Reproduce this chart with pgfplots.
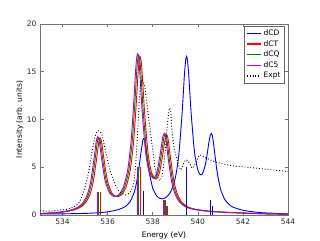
\documentclass[border=0pt]{standalone}
\usepackage{fontspec}
\setmainfont{DejaVu Sans}
\usepackage{pgfplots}
\pgfplotsset{compat=1.18}
\definecolor{mplblue}{rgb}{0,0,1}
\definecolor{mplred}{rgb}{1,0,0}
\definecolor{mplgreen}{rgb}{0,0.5,0}
\definecolor{mplmag}{rgb}{0.75,0,0.75}
\begin{document}
\begin{tikzpicture}
\path[use as bounding box] (-40pt,-25pt) rectangle (280pt,215pt);
\begin{axis}[
  at={(0pt,0pt)}, anchor=south west,
  scale only axis, width=248pt, height=191pt,
  xmin=533, xmax=544, ymin=0, ymax=20,
  xtick={534,536,...,544}, ytick={0,5,...,20},
  /pgf/number format/assume math mode=true,
  /pgf/number format/1000 sep={},
  tick label style={font=\fontsize{7.5}{8}\selectfont, black!85},
  axis line style={black!55, line width=0.8pt},
  tick style={black!55, line width=0.6pt},
  major tick length=3.5pt,
  xlabel={Energy (eV)}, ylabel={Intensity (arb. units)},
  label style={font=\fontsize{7.5}{8}\selectfont},
  xlabel style={at={(axis description cs:0.5,-0.105)}, anchor=center},
  ylabel style={at={(axis description cs:-0.081,0.5)}, anchor=center},
  legend style={at={(0.985,0.99)}, anchor=north east, draw=black!60, fill=white,
    font=\fontsize{7.5}{8}\selectfont, inner sep=1.5pt, row sep=-0.5pt},
  legend cell align=left,
  legend image code/.code={\draw[#1, line width=1.4pt] (0cm,0cm) -- (0.5cm,0cm);},
]
% dCD
\addplot[color=mplblue, line width=0.9pt, smooth, tension=0.4] coordinates {
(533,0.10) (534,0.12) (535,0.17) (535.5,0.22) (536,0.33) (536.5,0.58) (536.8,0.92)
(537.0,1.42) (537.2,2.52) (537.35,4.26) (537.45,6.04) (537.56,7.82) (537.6,8.00)
(537.64,7.82) (537.75,6.15) (537.85,4.44) (538.0,2.82) (538.2,1.92) (538.4,1.69)
(538.6,1.85) (538.8,2.44) (539.0,3.87) (539.15,6.17) (539.3,10.55) (539.4,14.49)
(539.46,16.2) (539.5,16.61) (539.54,16.2) (539.6,14.60) (539.7,10.79) (539.85,6.64)
(540.0,4.72) (540.1,4.25) (540.2,4.29) (540.35,5.42) (540.5,7.73) (540.56,8.37)
(540.6,8.55) (540.64,8.35) (540.7,7.43) (540.85,4.60) (541.0,2.78) (541.2,1.61)
(541.5,0.89) (542,0.50) (542.5,0.32) (543,0.22) (544,0.12)};
\addlegendentry{dCD}
% dCT
\addplot[color=mplred, line width=0.9pt, smooth, tension=0.4] coordinates {
(533,0.14) (533.5,0.20) (534,0.30) (534.5,0.52) (534.8,0.82) (535.0,1.22) (535.2,2.05)
(535.35,3.34) (535.5,5.69) (535.6,7.50) (535.63,7.87) (535.67,8.05) (535.71,7.87)
(535.75,7.42) (535.85,5.66) (536.0,3.51) (536.2,2.25) (536.4,1.91) (536.6,2.08)
(536.8,2.81) (537.0,4.63) (537.15,7.62) (537.25,10.94) (537.35,14.84) (537.40,16.22)
(537.44,16.58) (537.48,16.22) (537.53,14.91) (537.65,10.37) (537.8,6.32) (537.95,4.41)
(538.15,3.76) (538.3,4.44) (538.45,6.39) (538.55,7.98) (538.58,8.24) (538.62,8.40)
(538.66,8.24) (538.7,7.66) (538.8,5.76) (538.95,3.42) (539.1,2.15) (539.3,1.32)
(539.6,0.80) (540.0,0.55) (540.5,0.40) (541.0,0.32) (541.5,0.26) (542.0,0.21)
(543.0,0.13) (544.0,0.08)};
\addlegendentry{dCT}
% dCQ
\addplot[color=mplgreen, line width=0.9pt, smooth, tension=0.4] coordinates {
(533,0.15) (533.44,0.20) (533.94,0.30) (534.44,0.53) (534.74,0.83) (534.94,1.23)
(535.14,2.07) (535.29,3.37) (535.44,5.75) (535.54,7.58) (535.57,7.95) (535.61,8.13)
(535.65,7.95) (535.69,7.49) (535.79,5.72) (535.94,3.55) (536.14,2.27) (536.34,1.93)
(536.54,2.10) (536.74,2.84) (536.94,4.68) (537.09,7.70) (537.19,11.05) (537.29,14.99)
(537.34,16.38) (537.38,16.75) (537.42,16.38) (537.47,15.06) (537.59,10.47) (537.74,6.38)
(537.89,4.45) (538.09,3.80) (538.24,4.48) (538.39,6.45) (538.49,8.06) (538.52,8.32)
(538.56,8.48) (538.60,8.32) (538.64,7.74) (538.74,5.82) (538.89,3.45) (539.04,2.17)
(539.24,1.33) (539.54,0.81) (539.94,0.56) (540.44,0.40) (540.94,0.32) (541.44,0.26)
(541.94,0.21) (542.94,0.13) (544,0.08)};
\addlegendentry{dCQ}
% dC5
\addplot[color=mplmag, line width=0.9pt, smooth, tension=0.4] coordinates {
(533,0.15) (533.39,0.20) (533.89,0.31) (534.39,0.53) (534.69,0.83) (534.89,1.24)
(535.09,2.09) (535.24,3.40) (535.39,5.79) (535.49,7.64) (535.52,8.01) (535.56,8.19)
(535.60,8.01) (535.64,7.55) (535.74,5.76) (535.89,3.57) (536.09,2.29) (536.29,1.94)
(536.49,2.12) (536.69,2.86) (536.89,4.71) (537.04,7.76) (537.14,11.14) (537.24,15.11)
(537.29,16.51) (537.33,16.88) (537.37,16.51) (537.42,15.18) (537.54,10.56) (537.69,6.43)
(537.84,4.49) (538.04,3.83) (538.19,4.52) (538.34,6.51) (538.44,8.12) (538.47,8.39)
(538.51,8.55) (538.55,8.39) (538.59,7.80) (538.69,5.86) (538.84,3.48) (538.99,2.19)
(539.19,1.34) (539.49,0.81) (539.89,0.56) (540.39,0.41) (540.89,0.33) (541.39,0.26)
(541.89,0.21) (542.89,0.13) (544,0.08)};
\addlegendentry{dC5}
% Expt
\addplot[color=black, line width=0.9pt, dotted, smooth, tension=0.4] coordinates {
(533.0,0.45) (533.4,0.40) (533.8,0.50) (534.2,0.60) (534.5,0.85) (534.7,1.2) (534.85,1.9)
(535.0,3.0) (535.15,4.4) (535.3,6.5) (535.44,8.2) (535.55,8.8) (535.65,8.75) (535.75,8.4)
(535.9,6.8) (536.05,5.2) (536.2,4.0) (536.35,3.1) (536.55,2.4) (536.8,2.1) (537.0,2.4)
(537.15,3.2) (537.25,5.5) (537.35,9.5) (537.42,12.8) (537.5,14.1) (537.6,13.8)
(537.67,13.1) (537.74,11.7) (537.81,10.3) (537.89,8.9) (537.96,7.5) (538.04,6.1)
(538.1,4.9) (538.2,4.1) (538.3,3.6) (538.4,4.0) (538.47,5.0) (538.56,6.8) (538.63,8.9)
(538.7,10.6) (538.75,11.2) (538.8,10.8) (538.85,8.9) (538.92,7.5) (539.0,6.5)
(539.15,5.2) (539.25,4.7) (539.37,5.4) (539.49,5.8) (539.64,5.4) (539.77,4.9)
(539.93,5.6) (540.08,6.3) (540.26,6.1) (540.56,5.76) (540.85,5.5) (541.44,5.2)
(542.0,5.05) (543,4.8) (544,4.55)};
\addlegendentry{Expt}
% sticks
\addplot[color=mplblue, line width=1pt, ycomb, forget plot] coordinates {
(537.58,2.5) (539.5,5.06) (540.58,1.57) (540.67,0.94)};
\addplot[color=mplred, line width=1pt, ycomb, forget plot] coordinates {
(535.67,2.45) (537.44,5.06) (538.58,1.57) (538.67,0.94)};
\addplot[color=mplgreen, line width=1pt, ycomb, forget plot] coordinates {
(535.61,2.45) (537.38,5.06) (538.52,1.57) (538.61,0.94)};
\addplot[color=mplmag, line width=1pt, ycomb, forget plot] coordinates {
(535.56,2.45) (537.33,5.06) (538.47,1.57) (538.56,0.94)};
\end{axis}
\end{tikzpicture}
\end{document}
